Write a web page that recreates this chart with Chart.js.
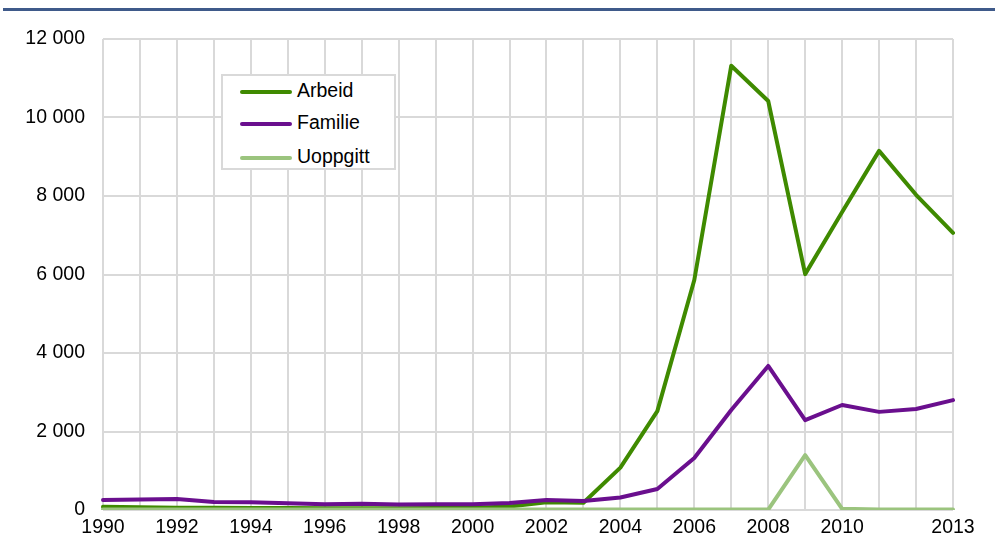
<!DOCTYPE html>
<html>
<head>
<meta charset="utf-8">
<script src="https://cdn.jsdelivr.net/npm/chart.js@4"></script>
<style>
  body { margin: 0; background: #fff; }
  #wrap { position: relative; width: 995px; height: 547px; }
  #topline { position: absolute; left: 3px; top: 8px; width: 992px; height: 3px; background: #3f5a8a; }
  #legend { position: absolute; left: 221px; top: 74px; width: 171px; height: 92px; border: 2px solid #d9d9d9; background: #fff;
    font-family: "Liberation Sans", Arial, sans-serif; font-size: 19.5px; color: #000; }
  .item { position: absolute; left: 17px; height: 22px; line-height: 22px; white-space: nowrap; }
  .item span.sw { display: inline-block; width: 52px; height: 4px; border-radius: 2px; vertical-align: middle; margin-right: 5px; }
</style>
</head>
<body>
<div id="wrap">
  <canvas id="myChart" width="995" height="547"></canvas>
  <div id="topline"></div>
  <div id="legend">
    <div class="item" style="top:3px"><span class="sw" style="background:#3f8a00"></span>Arbeid</div>
    <div class="item" style="top:35px"><span class="sw" style="background:#6a0f8e"></span>Familie</div>
    <div class="item" style="top:69px"><span class="sw" style="background:#9bc47e"></span>Uoppgitt</div>
  </div>
</div>
<script>
// Years on the x axis
const years = ["1990","1991","1992","1993","1994","1995","1996","1997","1998","1999","2000","2001",
               "2002","2003","2004","2005","2006","2007","2008","2009","2010","2011","2012","2013"];
// Which year labels get shown
const shownYears = ["1990","1992","1994","1996","1998","2000","2002","2004","2006","2008","2010","2013"];

const arbeid = [80, 70, 60, 55, 50, 50, 45, 45, 45, 50, 55, 90,
                200, 185, 1080, 2520, 5860, 11320, 10420, 6010, 7590, 9150, 8030, 7060];
const familie = [255, 265, 280, 205, 195, 175, 145, 160, 140, 145, 145, 180,
                 255, 230, 320, 535, 1325, 2550, 3670, 2290, 2675, 2500, 2575, 2800];
const uoppgitt = [15, 10, 10, 10, 10, 10, 10, 10, 10, 10, 10, 10,
                  10, 10, 10, 10, 10, 10, 10, 1400, 30, 10, 10, 10];

const font = { family: "'Liberation Sans', Arial, sans-serif", size: 19.5 };

const ctx = document.getElementById('myChart').getContext('2d');
new Chart(ctx, {
    type: 'line',
    data: {
        labels: years,
        datasets: [
            { label: "Uoppgitt", data: uoppgitt, borderColor: "#9bc47e", borderWidth: 4 },
            { label: "Familie", data: familie, borderColor: "#6a0f8e", borderWidth: 4 },
            { label: "Arbeid", data: arbeid, borderColor: "#3f8a00", borderWidth: 4 }
        ]
    },
    options: {
        responsive: false,
        animation: false,
        layout: { padding: { left: 0, right: 42, top: 39, bottom: 0 } },
        elements: { point: { radius: 0 }, line: { tension: 0, borderJoinStyle: 'round', borderCapStyle: 'round' } },
        plugins: { legend: { display: false }, tooltip: { enabled: false } },
        scales: {
            x: {
                offset: false,
                grid: { color: "#d9d9d9", lineWidth: 2, drawTicks: false },
                border: { display: false },
                ticks: {
                    autoSkip: false, maxRotation: 0, padding: 6, color: "#000", font: font,
                    callback: function (v, i) { return shownYears.includes(years[i]) ? years[i] : ""; }
                },
                afterFit: function (s) { s.height = 37; }
            },
            y: {
                min: 0, max: 12000,
                grid: { color: "#d9d9d9", lineWidth: 2, drawTicks: false },
                border: { display: false },
                ticks: {
                    stepSize: 2000, padding: 18, color: "#000", font: font,
                    callback: function (v) { return String(v).replace(/\B(?=(\d{3})+(?!\d))/g, " "); }
                },
                afterFit: function (s) { s.width = 103; }
            }
        }
    }
});
</script>
</body>
</html>
